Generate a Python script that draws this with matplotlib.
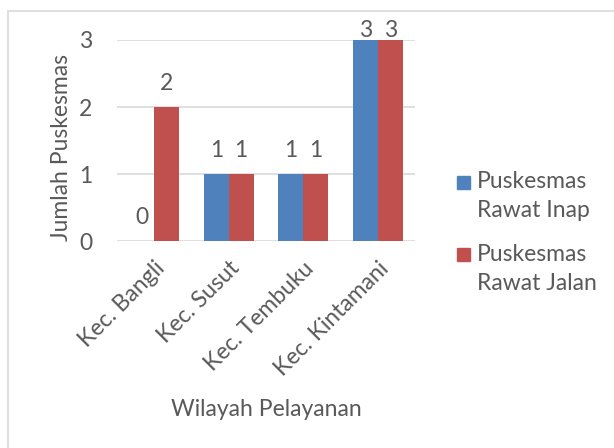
import matplotlib.pyplot as plt
import numpy as np
from matplotlib.patches import Rectangle

# data
wilayah = ['Kec. Bangli', 'Kec. Susut', 'Kec. Tembuku', 'Kec. Kintamani']
rawat_inap = [0, 1, 1, 3]
rawat_jalan = [2, 1, 1, 3]
seri = ['Puskesmas\nRawat Inap', 'Puskesmas\nRawat Jalan']

biru = '#4F81BD'
merah = '#C0504D'
teks = '#595959'
garis = '#D9D9D9'
fs = 16.5

plt.rcParams['font.family'] = ['Lato', 'DejaVu Sans']

fig = plt.figure(figsize=(6.14, 4.48), dpi=100)
fig.patches.append(Rectangle((8 / 614, -0.01), 1.0, 1 - 11 / 448 + 0.01,
                             transform=fig.transFigure, fill=False,
                             edgecolor=garis, linewidth=1.2))

ax = fig.add_axes([117 / 614, 1 - 241 / 448, 298 / 614, 201 / 448])

x = np.arange(len(wilayah))
w = 0.335
b1 = ax.bar(x - w / 2, rawat_inap, w, color=biru, zorder=3)
b2 = ax.bar(x + w / 2, rawat_jalan, w, color=merah, zorder=3)

ymax = 3
for bars, vals in [(b1, rawat_inap), (b2, rawat_jalan)]:
    for r, v in zip(bars, vals):
        # label di puncak sumbu digeser turun supaya tetap di dalam kotak
        off = 17 if v < ymax else 7
        ax.annotate(str(v), (r.get_x() + r.get_width() / 2, v),
                    xytext=(0, off), textcoords='offset points',
                    ha='center', va='center', fontsize=fs, color=teks)

ax.set_xlim(-0.5, len(wilayah) - 0.5)
ax.set_ylim(0, ymax)
ax.set_yticks([0, 1, 2, 3])
ax.yaxis.grid(True, color=garis, linewidth=1.2, zorder=0)
for s in ax.spines.values():
    s.set_visible(False)
ax.tick_params(axis='both', length=0, labelsize=fs, colors=teks)
ax.tick_params(axis='y', pad=18)
ax.set_xticks(x)
ax.set_xticklabels(wilayah, rotation=45, ha='right', rotation_mode='anchor')
ax.tick_params(axis='x', pad=12)

ax.set_ylabel('Jumlah Puskesmas', fontsize=fs, color=teks)
ax.yaxis.set_label_coords(-0.15, 0.463)
ax.set_xlabel('Wilayah Pelayanan', fontsize=fs, color=teks, labelpad=14)

# legenda manual: kotak sejajar baris pertama teks
leg_y = [182, 255]
for lab, col, yy in zip(seri, [biru, merah], leg_y):
    fig.patches.append(Rectangle((457 / 614, 1 - (yy + 6.5) / 448), 13 / 614, 13 / 448,
                                 transform=fig.transFigure, color=col))
    fig.text(477 / 614, 1 - (yy - 11) / 448, lab, fontsize=fs, color=teks,
             ha='left', va='top', linespacing=1.45)

fig.savefig('out.png', dpi=100)
